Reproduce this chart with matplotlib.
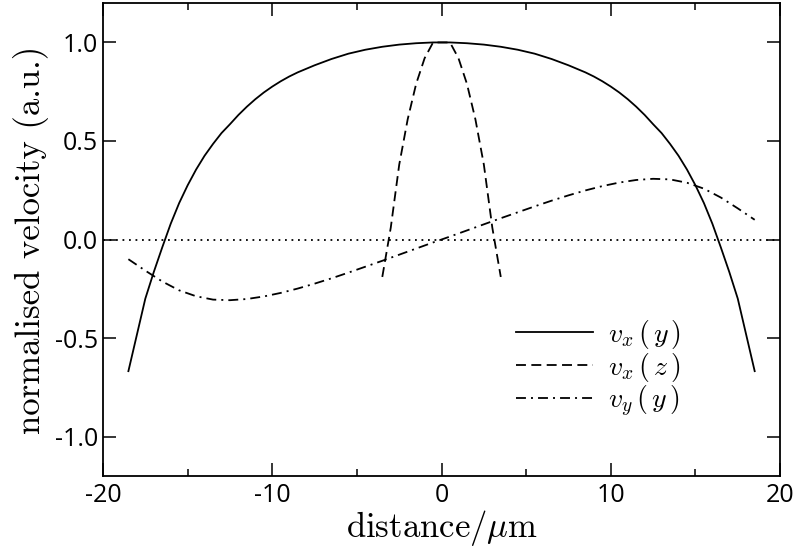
import numpy as np
import matplotlib
matplotlib.use("Agg")
import matplotlib.pyplot as plt
from matplotlib.ticker import MultipleLocator

plt.rcParams["mathtext.fontset"] = "cm"
plt.rcParams["axes.unicode_minus"] = False

# --- data ---
# v_x(y): finer sampling where the profile bends
pos_vx = [-18.5, -17.5, -17.0, -16.5, -16.0, -15.5, -15.0, -14.5, -14.0, -13.5,
          -13.0, -12.5, -12.0, -11.5, -11.0, -10.5, -10.0, -9.5, -9.0, -8.5,
          -7.5, -6.5, -5.5, -4.5, -3.5, -2.5, -1.5, -0.5,
          0.5, 1.5, 2.5, 3.5, 4.5, 5.5, 6.5, 7.5,
          8.5, 9.0, 9.5, 10.0, 10.5, 11.0, 11.5, 12.0, 12.5, 13.0,
          13.5, 14.0, 14.5, 15.0, 15.5, 16.0, 16.5, 17.0, 17.5, 18.5]
vx_y = [-0.668, -0.30, -0.165, -0.04, 0.08, 0.185, 0.275, 0.355, 0.425, 0.485,
        0.54, 0.585, 0.632, 0.674, 0.712, 0.746, 0.776, 0.803, 0.827, 0.848,
        0.884, 0.916, 0.943, 0.963, 0.978, 0.989, 0.996, 1.0,
        1.0, 0.996, 0.989, 0.978, 0.963, 0.943, 0.916, 0.884,
        0.848, 0.827, 0.803, 0.776, 0.746, 0.712, 0.674, 0.632, 0.585, 0.54,
        0.485, 0.425, 0.355, 0.275, 0.185, 0.08, -0.04, -0.165, -0.30, -0.668]

# v_y(y)
pos_vy = [-18.5, -17.5, -16.5, -15.5, -14.5, -13.5, -12.5, -11.5, -10.5, -9.5,
          -8.5, -7.5, -6.5, -5.5, -4.5, -3.5, -2.5, -1.5, -0.5,
          0.5, 1.5, 2.5, 3.5, 4.5, 5.5, 6.5, 7.5, 8.5, 9.5,
          10.5, 11.5, 12.5, 13.5, 14.5, 15.5, 16.5, 17.5, 18.5]
vy_y = [-0.10, -0.158, -0.213, -0.258, -0.288, -0.305, -0.308, -0.302, -0.289, -0.271,
        -0.249, -0.224, -0.197, -0.168, -0.138, -0.108, -0.077, -0.046, -0.015,
        0.015, 0.046, 0.077, 0.108, 0.138, 0.168, 0.197, 0.224, 0.249, 0.271,
        0.289, 0.302, 0.308, 0.305, 0.288, 0.258, 0.213, 0.158, 0.10]

# v_x(z)
pos_z = [-3.5, -3.0, -2.5, -2.0, -1.5, -1.0, -0.5, 0.5, 1.0, 1.5, 2.0, 2.5, 3.0, 3.5]
vx_z = [-0.19, 0.06, 0.38, 0.61, 0.79, 0.92, 1.0, 1.0, 0.92, 0.79, 0.61, 0.38, 0.06, -0.19]

fig = plt.figure(figsize=(7.96, 5.49), dpi=100)
ax = fig.add_axes([0.1294, 0.133, 0.8506, 0.8615])

lw = 1.3
ax.axhline(0, color="black", lw=lw, dashes=(1, 2.6))
ax.plot(pos_vx, vx_y, color="black", lw=lw, label=r"$v_x\,(\,y\,)$")
ax.plot(pos_z, vx_z, color="black", lw=lw, dashes=(5.5, 3), label=r"$v_x\,(\,z\,)$")
ax.plot(pos_vy, vy_y, color="black", lw=lw, dashes=(5.5, 2.8, 1.1, 2.8),
        label=r"$v_y\,(\,y\,)$")

ax.set_xlim(-20, 20)
ax.set_ylim(-1.2, 1.2)
ax.xaxis.set_major_locator(MultipleLocator(10))
ax.xaxis.set_minor_locator(MultipleLocator(5))
ax.set_yticks([-1.0, -0.5, 0.0, 0.5, 1.0])
ax.set_yticklabels(["-1.0", "-0.5", "0.0", "0.5", "1.0"])

for s in ax.spines.values():
    s.set_linewidth(1.3)
ax.tick_params(which="both", direction="in", top=True, right=True, width=1.1)
ax.tick_params(which="major", length=9.4)
ax.tick_params(which="minor", length=5)
ax.tick_params(axis="x", pad=5)
ax.tick_params(axis="y", pad=3.5)
for lab in ax.get_xticklabels() + ax.get_yticklabels():
    lab.set_fontfamily("Open Sans")
    lab.set_fontsize(18)

ax.set_xlabel(r"distance/$\mu$m", fontfamily="cmr10", fontsize=25, labelpad=0)
ax.set_ylabel("normalised velocity (a.u.)", fontfamily="cmr10", fontsize=25, labelpad=4)

ax.legend(loc="center", bbox_to_anchor=(0.732, 0.228), frameon=False,
          fontsize=20, handlelength=2.75, handletextpad=0.55, labelspacing=0.0)

fig.savefig("out.png", dpi=100)
